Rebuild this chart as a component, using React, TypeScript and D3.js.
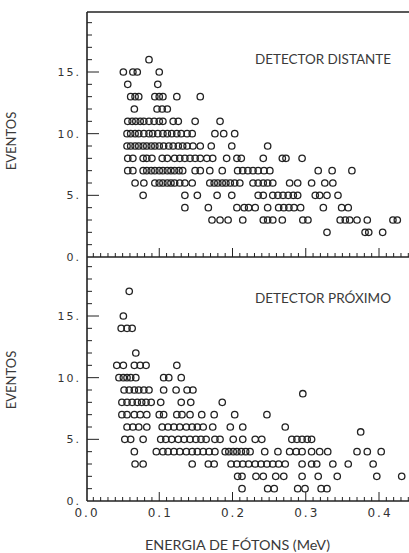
import React, { useRef, useEffect } from "react";
import * as d3 from "d3";

// each row: [events, photon energies (MeV)]
const distantRows: [number, number[]][] = [
  [16, [0.086]],
  [15, [0.051, 0.064, 0.07, 0.1]],
  [14, [0.057, 0.098]],
  [13, [0.061, 0.067, 0.072, 0.094, 0.1, 0.105, 0.124, 0.156]],
  [12, [0.066, 0.097, 0.104, 0.111]],
  [11, [0.057, 0.063, 0.068, 0.074, 0.079, 0.086, 0.093, 0.1, 0.105, 0.119, 0.126, 0.149, 0.183]],
  [10, [0.056, 0.061, 0.067, 0.072, 0.079, 0.086, 0.091, 0.098, 0.105, 0.111, 0.117, 0.124, 0.13, 0.138, 0.145, 0.176, 0.188, 0.203]],
  [9, [0.056, 0.061, 0.067, 0.072, 0.078, 0.083, 0.089, 0.094, 0.1, 0.106, 0.113, 0.119, 0.126, 0.132, 0.138, 0.146, 0.156, 0.171, 0.199, 0.248]],
  [8, [0.057, 0.064, 0.078, 0.083, 0.09, 0.104, 0.111, 0.121, 0.128, 0.135, 0.142, 0.149, 0.156, 0.165, 0.173, 0.192, 0.206, 0.212, 0.242, 0.268, 0.273, 0.295]],
  [7, [0.057, 0.064, 0.078, 0.083, 0.089, 0.094, 0.1, 0.105, 0.111, 0.116, 0.121, 0.127, 0.132, 0.149, 0.156, 0.169, 0.186, 0.207, 0.214, 0.221, 0.228, 0.235, 0.243, 0.251, 0.317, 0.336, 0.363]],
  [6, [0.067, 0.079, 0.094, 0.1, 0.105, 0.111, 0.116, 0.121, 0.128, 0.135, 0.145, 0.169, 0.175, 0.18, 0.186, 0.191, 0.197, 0.203, 0.21, 0.228, 0.235, 0.242, 0.248, 0.255, 0.278, 0.289, 0.308, 0.326, 0.337]],
  [5, [0.078, 0.135, 0.152, 0.179, 0.199, 0.235, 0.242, 0.255, 0.262, 0.269, 0.276, 0.283, 0.289, 0.313, 0.319, 0.329, 0.344]],
  [4, [0.135, 0.167, 0.206, 0.216, 0.222, 0.231, 0.248, 0.263, 0.27, 0.277, 0.284, 0.293, 0.324, 0.349, 0.358]],
  [3, [0.172, 0.183, 0.194, 0.214, 0.242, 0.248, 0.255, 0.268, 0.296, 0.303, 0.347, 0.354, 0.36, 0.37, 0.384, 0.419, 0.425]],
  [2, [0.329, 0.381, 0.386, 0.405]],
];

const proximoRows: [number, number[]][] = [
  [17, [0.059]],
  [15, [0.051]],
  [14, [0.048, 0.056, 0.063]],
  [12, [0.068]],
  [11, [0.042, 0.051, 0.066, 0.074, 0.082, 0.124]],
  [10, [0.045, 0.051, 0.056, 0.061, 0.068, 0.106, 0.113, 0.13]],
  [9, [0.052, 0.059, 0.066, 0.072, 0.079, 0.086, 0.106, 0.123, 0.138, 0.146]],
  [8.7, [0.296]],
  [8, [0.049, 0.056, 0.063, 0.07, 0.076, 0.082, 0.089, 0.102, 0.13, 0.143, 0.186]],
  [7, [0.049, 0.056, 0.066, 0.074, 0.083, 0.1, 0.106, 0.124, 0.131, 0.142, 0.158, 0.175, 0.203, 0.247]],
  [6, [0.056, 0.064, 0.072, 0.083, 0.104, 0.112, 0.12, 0.128, 0.137, 0.145, 0.152, 0.16, 0.173, 0.197, 0.214, 0.272]],
  [5.6, [0.375]],
  [5, [0.053, 0.061, 0.078, 0.102, 0.109, 0.117, 0.126, 0.134, 0.142, 0.15, 0.157, 0.164, 0.176, 0.183, 0.201, 0.214, 0.231, 0.24, 0.281, 0.288, 0.295, 0.302, 0.308]],
  [4, [0.066, 0.096, 0.105, 0.112, 0.12, 0.128, 0.137, 0.145, 0.152, 0.16, 0.168, 0.176, 0.19, 0.195, 0.201, 0.206, 0.212, 0.218, 0.224, 0.244, 0.262, 0.278, 0.287, 0.295, 0.308, 0.319, 0.33, 0.37, 0.384, 0.403]],
  [3, [0.067, 0.078, 0.145, 0.167, 0.175, 0.198, 0.206, 0.214, 0.222, 0.231, 0.239, 0.247, 0.255, 0.263, 0.272, 0.295, 0.308, 0.315, 0.337, 0.358, 0.392]],
  [2, [0.207, 0.213, 0.232, 0.242, 0.259, 0.27, 0.295, 0.317, 0.343, 0.397, 0.431]],
  [1, [0.213, 0.248, 0.257, 0.289, 0.299, 0.321, 0.329]],
];

const yTicks = [0, 5, 10, 15];
const yTickLabels = ["0.", "5.", "10.", "15."];
const xTicks = [0, 0.1, 0.2, 0.3, 0.4];
const xTickLabels = ["0.0", "0.1", "0.2", "0.3", "0.4"];
const panelTitles = ["DETECTOR DISTANTE", "DETECTOR PRÓXIMO"];

export default function App() {
  const ref = useRef<SVGSVGElement>(null);

  useEffect(() => {
    const width = 409;
    const height = 553;
    const ink = "#222";
    const labelFont = "Lato, 'Open Sans', sans-serif";
    const tickFont = "'DejaVu Sans', sans-serif";

    const svg = d3.select(ref.current);
    svg.selectAll("*").remove();
    svg.attr("width", width).attr("height", height);

    svg.append("rect").attr("width", width).attr("height", height).attr("fill", "#fff");

    const x = d3.scaleLinear().domain([0, 0.4]).range([86, 379]);
    const axisX = 87;

    const panels = [
      { rows: distantRows, y: d3.scaleLinear().domain([0, 15]).range([257, 72]), title: panelTitles[0], titleY: 64, eventsY: 141, xLabels: false },
      { rows: proximoRows, y: d3.scaleLinear().domain([0, 15]).range([501, 316]), title: panelTitles[1], titleY: 303, eventsY: 380, xLabels: true },
    ];

    // left axis, continuous over both panels, and top border
    svg.append("line")
      .attr("x1", axisX).attr("x2", axisX)
      .attr("y1", 12).attr("y2", panels[1].y(0))
      .attr("stroke", ink).attr("stroke-width", 1.6);
    svg.append("line")
      .attr("x1", axisX).attr("x2", width)
      .attr("y1", 12).attr("y2", 12)
      .attr("stroke", ink).attr("stroke-width", 1.4);

    panels.forEach(p => {
      const g = svg.append("g");
      const y0 = p.y(0);

      g.append("line")
        .attr("x1", axisX).attr("x2", width)
        .attr("y1", y0).attr("y2", y0)
        .attr("stroke", ink).attr("stroke-width", 1.6);

      // x ticks every 0.01, long ones at 0.1
      g.selectAll(".xt")
        .data(d3.range(1, 45).map(i => i / 100))
        .enter()
        .append("line")
        .attr("x1", d => x(d)).attr("x2", d => x(d))
        .attr("y1", y0)
        .attr("y2", (d, i) => ((i + 1) % 10 === 0 ? y0 - 9 : y0 - 4))
        .attr("stroke", ink).attr("stroke-width", 1);

      // y ticks every unit, long ones at multiples of 5
      g.selectAll(".yt")
        .data(d3.range(1, 20))
        .enter()
        .append("line")
        .attr("x1", axisX)
        .attr("x2", d => (d % 5 === 0 ? axisX + 12 : axisX + 5))
        .attr("y1", d => p.y(d)).attr("y2", d => p.y(d))
        .attr("stroke", ink).attr("stroke-width", 1);

      g.selectAll(".yl")
        .data(yTicks)
        .enter()
        .append("text")
        .attr("x", 81)
        .attr("y", d => p.y(d) + 4)
        .attr("text-anchor", "end")
        .attr("font-family", tickFont)
        .attr("font-size", 11)
        .attr("letter-spacing", 2)
        .attr("fill", "#333")
        .text((d, i) => yTickLabels[i]);

      if (p.xLabels) {
        g.selectAll(".xl")
          .data(xTicks)
          .enter()
          .append("text")
          .attr("x", d => x(d) + 1)
          .attr("y", y0 + 16)
          .attr("text-anchor", "middle")
          .attr("font-family", tickFont)
          .attr("font-size", 12)
          .attr("letter-spacing", 2)
          .attr("fill", "#333")
          .text((d, i) => xTickLabels[i]);
      }

      const pts = p.rows.flatMap(([count, energies]) => energies.map(e => ({ e, count })));
      g.selectAll(".pt")
        .data(pts)
        .enter()
        .append("circle")
        .attr("cx", d => x(d.e))
        .attr("cy", d => p.y(d.count))
        .attr("r", 3.2)
        .attr("fill", "none")
        .attr("stroke", ink)
        .attr("stroke-width", 1.3);

      g.append("text")
        .attr("x", 255)
        .attr("y", p.titleY)
        .attr("font-family", labelFont)
        .attr("font-size", 13)
        .attr("fill", "#3a3a3a")
        .attr("textLength", 136)
        .attr("lengthAdjust", "spacingAndGlyphs")
        .text(p.title);

      g.append("text")
        .attr("transform", `translate(16,${p.eventsY}) rotate(-90)`)
        .attr("text-anchor", "middle")
        .attr("font-family", labelFont)
        .attr("font-size", 13)
        .attr("fill", "#3a3a3a")
        .text("EVENTOS");
    });

    svg.append("text")
      .attr("x", 145)
      .attr("y", 550)
      .attr("font-family", labelFont)
      .attr("font-size", 13)
      .attr("fill", "#3a3a3a")
      .attr("textLength", 185)
      .attr("lengthAdjust", "spacingAndGlyphs")
      .text("ENERGIA DE FÓTONS (MeV)");
  }, []);

  return <svg ref={ref} style={{ position: "absolute", left: 0, top: 0 }}></svg>;
}
